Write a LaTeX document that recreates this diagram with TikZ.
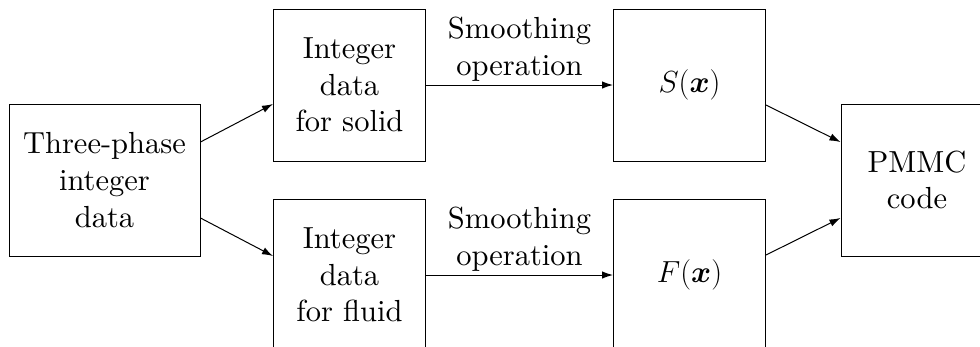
\RequirePackage{fix-cm}
\documentclass[tikz,border=0pt]{standalone}
\usepackage{amsmath}
\usepackage{fontspec}
\setmainfont{lmroman10-regular.otf}[BoldFont=lmroman10-bold.otf,ItalicFont=lmroman10-italic.otf,BoldItalicFont=lmroman10-bolditalic.otf]
\usetikzlibrary{arrows.meta,positioning}
\begin{document}
\begin{tikzpicture}[x=1pt,y=-1pt,
  font=\fontsize{30.5}{36.6}\selectfont,
  blk/.style={draw,line width=1pt,inner sep=0pt,align=center,minimum height=152pt,minimum width=152pt},
  arr/.style={line width=1pt,-{Latex[length=11pt,width=7.5pt]}},
  lbl/.style={above,align=center}]
\clip (0,0) rectangle (980,346);
\node[blk,minimum width=191pt] (L) at (104.5,180) {Three-phase\\integer\\data};
\node[blk] (U) at (349.5,85) {Integer\\data\\for solid};
\node[blk] (D) at (349.5,275) {Integer\\data\\for fluid};
\node[blk] (S) at (689.5,85) {$S(\boldsymbol{x})$};
\node[blk] (F) at (689.5,275) {$F(\boldsymbol{x})$};
\node[blk] (P) at (917,180) {PMMC\\code};
\draw[arr] ([yshift=38pt]L.east) -- ([yshift=-19pt]U.west);
\draw[arr] ([yshift=-38pt]L.east) -- ([yshift=19pt]D.west);
\draw[arr] (U) -- node[lbl] {Smoothing\\operation} (S);
\draw[arr] (D) -- node[lbl] {Smoothing\\operation} (F);
\draw[arr] ([yshift=-20pt]S.east) -- ([yshift=38pt]P.west);
\draw[arr] ([yshift=20pt]F.east) -- ([yshift=-38pt]P.west);
\end{tikzpicture}
\end{document}
